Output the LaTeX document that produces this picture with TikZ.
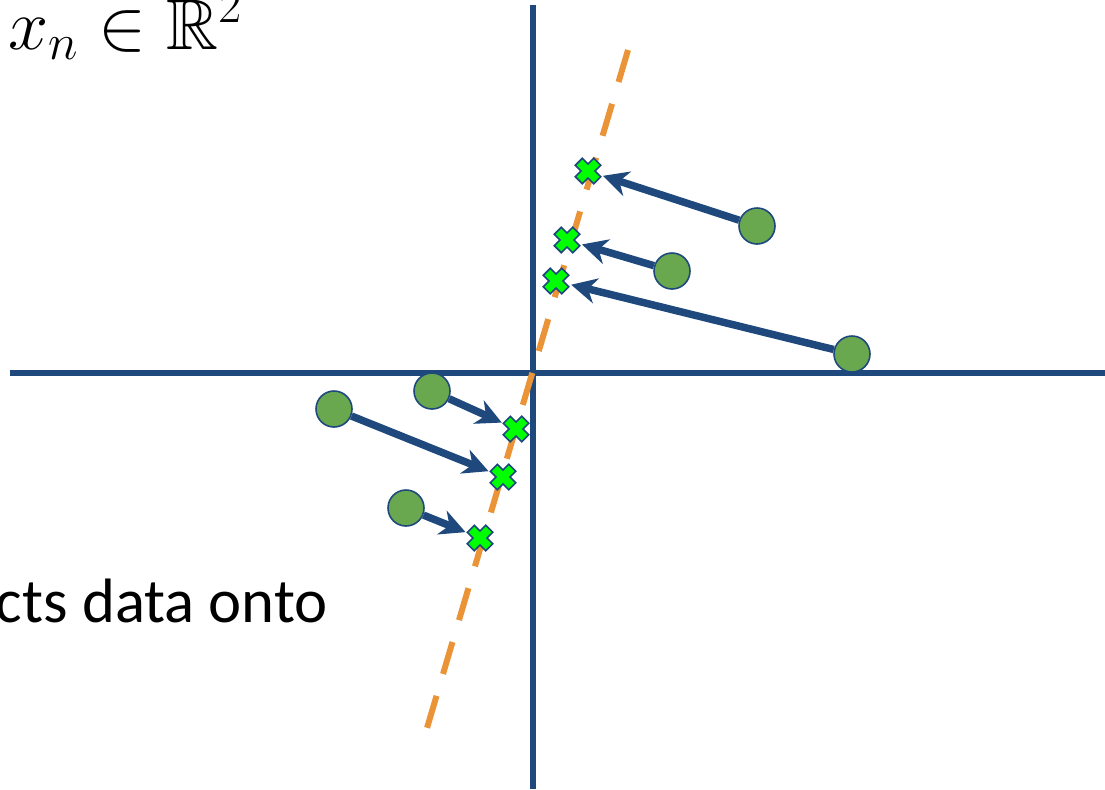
\RequirePackage{fix-cm}
\documentclass[tikz,border=0pt]{standalone}
\usepackage{amsmath}
\usepackage{amssymb}
\usepackage{anyfontsize}
\usepackage{fontspec}
\newfontfamily\calib{Carlito}
\usetikzlibrary{arrows.meta}
\definecolor{axblue}{RGB}{31,73,125}
\definecolor{ptgreen}{RGB}{106,168,79}
\definecolor{prjorange}{RGB}{234,147,55}
\definecolor{xgreen}{RGB}{0,255,0}
\tikzset{
  axis line/.style={draw=axblue,line width=3.8pt},
  proj line/.style={draw=prjorange,line width=4.5pt,dash pattern=on 25pt off 17.1pt},
  datapt/.style={circle,draw=axblue,fill=ptgreen,line width=1.2pt,minimum size=27pt,inner sep=0pt},
  projpt/.style={circle,minimum size=23pt,inner sep=0pt},
  projarrow/.style={draw=axblue,line width=5.6pt,-{Stealth[length=19pt,width=19pt,inset=6pt]}},
  xmk/.pic={\draw[draw=axblue,fill=xgreen,line width=1.2pt,rotate=45]
     (5,13) -- (5,5) -- (13,5) -- (13,-5) -- (5,-5) -- (5,-13) -- (-5,-13) -- (-5,-5)
     -- (-13,-5) -- (-13,5) -- (-5,5) -- (-5,13) -- cycle;}
}
\begin{document}
\begin{tikzpicture}[x=0.75pt,y=-0.75pt]
\useasboundingbox (0,0) rectangle (1105,789);
% axes
\coordinate (vt) at (533,5);
\coordinate (vb) at (533,789);
\coordinate (hl) at (10,373);
\coordinate (hr) at (1105,373);
\draw[axis line] (vt) -- (vb);
\draw[axis line] (hl) -- (hr);
% projection direction
\coordinate (dt) at (628,50);
\coordinate (db) at (427,728);
\draw[proj line] (dt) -- (db);
% data points and projections
\node[datapt] (p1) at (757,226) {};
\node[datapt] (p2) at (672,271) {};
\node[datapt] (p3) at (852,354) {};
\node[datapt] (p4) at (432,391) {};
\node[datapt] (p5) at (334,409) {};
\node[datapt] (p6) at (406,508) {};
\node[projpt] (q1) at (588,171) {};
\node[projpt] (q2) at (567,240) {};
\node[projpt] (q3) at (556,281) {};
\node[projpt] (q4) at (516,429) {};
\node[projpt] (q5) at (503,477) {};
\node[projpt] (q6) at (480,538) {};
\foreach \i in {1,...,6} {\draw[projarrow] (p\i) -- (q\i);}
\foreach \i in {1,...,6} {\pic at (q\i) {xmk};}
% texts
\node[anchor=base west,inner sep=0pt] (lbl) at (8,49)
  {\fontsize{54}{60}\selectfont $x_n \in \mathbb{R}^2$};
\node[anchor=base east,inner sep=0pt] (txt) at (328,622)
  {\calib\fontsize{47}{50}\selectfont cts data onto};
\end{tikzpicture}
\end{document}
